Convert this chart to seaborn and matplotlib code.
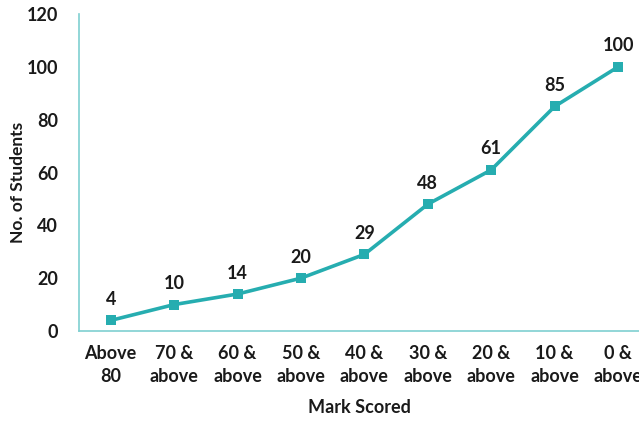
import matplotlib
matplotlib.use("Agg")
import matplotlib.pyplot as plt
import seaborn as sns
import pandas as pd

categories = ["Above\n80", "70 &\nabove", "60 &\nabove", "50 &\nabove", "40 &\nabove",
              "30 &\nabove", "20 &\nabove", "10 &\nabove", "0 &\nabove"]
students = [4, 10, 14, 20, 29, 48, 61, 85, 100]
y_ticks = [0, 20, 40, 60, 80, 100, 120]

sns.set_theme(style="white")
plt.rcParams['font.family'] = ['Lato', 'DejaVu Sans']

df = pd.DataFrame({"x": list(range(len(categories))), "y": students})

fig = plt.figure(figsize=(6.39, 4.25), dpi=100)
ax = fig.add_axes([0.1236, 0.2212, 0.8764, 0.7458])

line_color = "#26adb0"
txt = "#1a1a1a"
fs = 13
sns.lineplot(data=df, x="x", y="y", ax=ax, color=line_color, linewidth=2.6,
             marker="s", markersize=6.5, markeredgewidth=0, markerfacecolor=line_color)

for xi, yi in zip(df["x"], df["y"]):
    ax.annotate(str(yi), (xi, yi), xytext=(0, 9), textcoords="offset points",
                ha="center", va="bottom", fontsize=fs, fontweight="bold", color=txt)

ax.set_xlim(-0.5, 8.33)
ax.set_ylim(0, 120)
ax.set_yticks(y_ticks)
ax.set_xticks(range(len(categories)))
ax.set_xticklabels(categories, fontsize=fs, fontweight="bold", color=txt, linespacing=1.45)
ax.set_yticklabels([str(t) for t in y_ticks], fontsize=fs, fontweight="bold", color=txt)
ax.tick_params(axis="both", length=0)
ax.tick_params(axis="y", pad=15)
ax.tick_params(axis="x", pad=10)

for s in ["top", "right"]:
    ax.spines[s].set_visible(False)
for s in ["left", "bottom"]:
    ax.spines[s].set_color("#7fcfd1")
    ax.spines[s].set_linewidth(1.2)

ax.set_xlabel("Mark Scored", fontsize=fs, fontweight="bold", color=txt, labelpad=10)
ax.set_ylabel("No. of Students", fontsize=fs - 0.5, fontweight="bold", color=txt)
ax.yaxis.set_label_coords(-0.095, 0.47)

fig.savefig("out.png", dpi=100)
